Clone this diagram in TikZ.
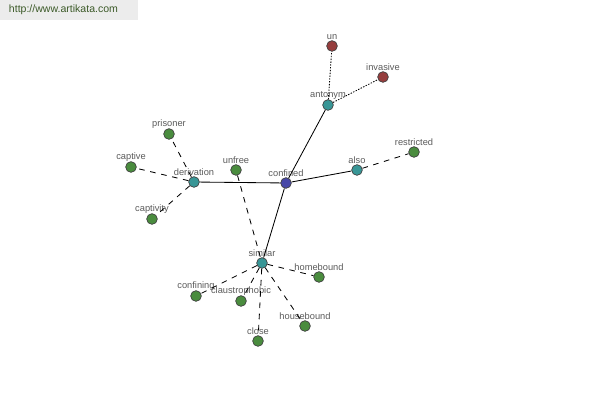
\documentclass[tikz,border=0pt]{standalone}
\usepackage{fontspec}
\setmainfont{Liberation Sans}
\usepackage{tikz}
\definecolor{hubblue}{RGB}{72,72,168}
\definecolor{relteal}{RGB}{56,150,150}
\definecolor{antred}{RGB}{150,62,62}
\definecolor{wordgreen}{RGB}{74,140,62}
\definecolor{labgray}{RGB}{90,90,90}
\definecolor{bannerbg}{RGB}{236,236,236}
\definecolor{bannertxt}{RGB}{60,90,40}
\tikzstyle{word}=[circle, draw=black!75, line width=0.5pt, inner sep=0pt, minimum size=7.6pt]
\tikzstyle{hub}=[word, fill=hubblue]
\tikzstyle{rel}=[word, fill=relteal]
\tikzstyle{ant}=[word, fill=antred]
\tikzstyle{leaf}=[word, fill=wordgreen]
\tikzstyle{labelsty}=[font=\fontsize{6.6}{7.5}\selectfont, text=labgray, inner sep=0.5pt, yshift=-0.5pt]
\tikzstyle{edge}=[line width=0.6pt]
\tikzstyle{dedge}=[edge, dash pattern=on 4pt off 4pt]
\tikzstyle{oedge}=[edge, dash pattern=on 1pt off 1pt]

\begin{document}
\begin{tikzpicture}[x=0.025cm, y=-0.025cm, every label/.style=labelsty]
				\useasboundingbox (0,0) rectangle (600,400);
				\fill[bannerbg] (0,0) rectangle (138,20);
				\node[font=\fontsize{7.5}{9}\selectfont, text=bannertxt, anchor=west] (site) at (4,10) {http://www.artikata.com};
				
				\node[hub,label=above:confined] (confined) at (286,183) {};
				\node[rel,label=above:antonym] (antonym) at (328,105) {};
				\node[rel,label=above:also] (also) at (357,170) {};
				\node[rel,label=above:derivation] (derivation) at (194,182) {};
				\node[rel,label=above:similar] (similar) at (262,263) {};
				\node[ant,label=above:un] (un) at (332,46) {};
				\node[ant,label=above:invasive] (invasive) at (383,77) {};
				\node[leaf,label=above:restricted] (restricted) at (414,152) {};
				\node[leaf,label=above:prisoner] (prisoner) at (169,134) {};
				\node[leaf,label=above:captive] (captive) at (131,167) {};
				\node[leaf,label=above:captivity] (captivity) at (152,219) {};
				\node[leaf,label=above:unfree] (unfree) at (236,170) {};
				\node[leaf,label=above:homebound] (homebound) at (319,277) {};
				\node[leaf,label=above:confining] (confining) at (196,296) {};
				\node[leaf,label=above:claustrophobic] (claustrophobic) at (241,301) {};
				\node[leaf,label=above:close] (close) at (258,341) {};
				\node[leaf,label=above:housebound] (housebound) at (305,326) {};
				
				\draw[edge] (confined)--(antonym);
				\draw[edge] (confined)--(also);
				\draw[edge] (confined)--(derivation);
				\draw[edge] (confined)--(similar);
				\draw[oedge] (antonym)--(un);
				\draw[oedge] (antonym)--(invasive);
				\draw[dedge] (also)--(restricted);
				\draw[dedge] (derivation)--(prisoner);
				\draw[dedge] (derivation)--(captive);
				\draw[dedge] (derivation)--(captivity);
				\draw[dedge] (unfree)--(similar);
				\draw[dedge] (similar)--(homebound);
				\draw[dedge] (similar)--(confining);
				\draw[dedge] (similar)--(claustrophobic);
				\draw[dedge] (similar)--(close);
				\draw[dedge] (similar)--(housebound);
			\end{tikzpicture}
\end{document}
